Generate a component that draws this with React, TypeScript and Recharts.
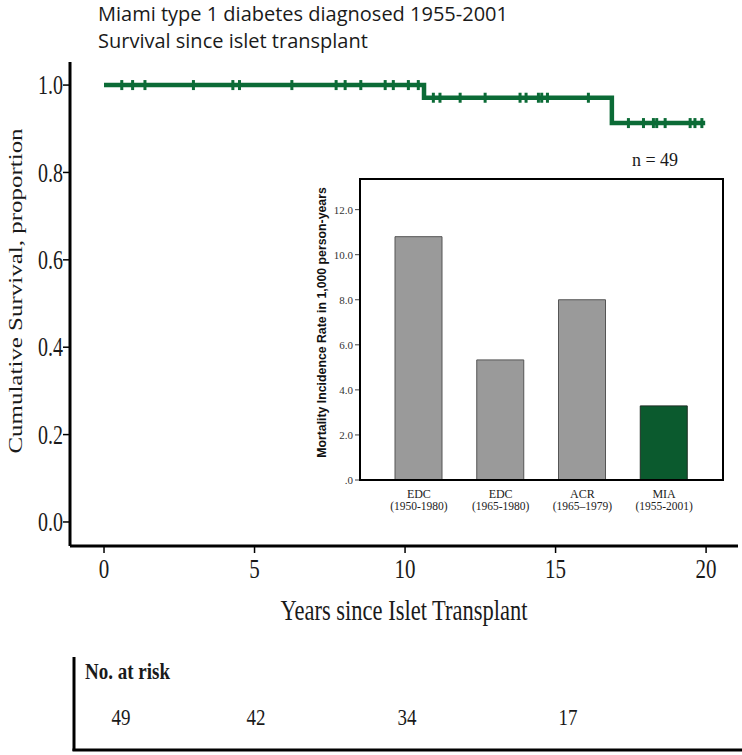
import React from 'react';
import { ComposedChart, Line, Scatter, XAxis, YAxis, BarChart, Bar, Cell, Label } from 'recharts';

// Kaplan-Meier steps (years, survival proportion)
const stepTimes = [0, 10.63, 16.87, 19.97];
const stepSurvival = [1.0, 0.971, 0.913, 0.913];
// censored observations (years)
const censorTimes = [
  0.59, 0.95, 1.36, 2.97, 4.28, 4.5, 6.24, 7.71, 8.01, 8.53, 9.34, 9.61, 10.11, 10.44,
  10.94, 11.16, 11.83, 12.66, 13.82, 14.02, 14.43, 14.54, 14.73, 16.09,
  17.42, 17.92, 18.25, 18.36, 18.64, 19.47, 19.63, 19.86,
];
const xTicks = [0, 5, 10, 15, 20];
const yTicks = [0, 0.2, 0.4, 0.6, 0.8, 1.0];

// inset: mortality incidence per 1,000 person-years
const studyNames = ['EDC', 'EDC', 'ACR', 'MIA'];
const studyPeriods = ['(1950-1980)', '(1965-1980)', '(1965\u20131979)', '(1955-2001)'];
const mortalityRates = [10.8, 5.33, 8.0, 3.29];
const rateTicks = [0, 2, 4, 6, 8, 10, 12];

// number at risk below the plot
const riskCounts = [49, 42, 34, 17];
const riskX = [121, 256, 407, 568];

const SERIF = '"Liberation Serif", "Times New Roman", serif';
const GREEN = '#0b6b36';
const BAR_GREEN = '#0b5a2e';
const BAR_GRAY = '#9a9a9a';
const INK = '#1a1a1a';

const survivalAt = (t: number) => {
  let s = stepSurvival[0];
  stepTimes.forEach((st, i) => {
    if (st <= t) s = stepSurvival[i];
  });
  return s;
};

const curveData = stepTimes.map((t, i) => ({ t, s: stepSurvival[i] }));
const censorData = censorTimes.map((t) => ({ t, s: survivalAt(t) }));
const barData = studyNames.map((name, i) => ({
  key: `${name}${i}`,
  name,
  period: studyPeriods[i],
  rate: mortalityRates[i],
}));

// the source figure has its text stretched vertically
function StretchText({ x, y, size, anchor = 'middle', weight = 'normal', sy = 1.35, rotate = false, children }: any) {
  const t = rotate
    ? `translate(${x},${y}) rotate(-90) scale(${sy},1)`
    : `translate(${x},${y}) scale(1,${sy})`;
  return (
    <text transform={t} textAnchor={anchor} dominantBaseline="central" fontFamily={SERIF} fontSize={size} fontWeight={weight} fill={INK}>
      {children}
    </text>
  );
}

const CensorMark = (props: any) => {
  const { cx, cy } = props;
  if (cx == null || cy == null) return null;
  return <rect x={cx - 1.5} y={cy - 5} width={3} height={10} fill={GREEN} />;
};

const StudyTick = (props: any) => {
  const { x, y, payload, index } = props;
  const d = barData[index] ?? barData.find((b) => b.key === payload.value);
  return (
    <g>
      <text x={x} y={y + 6} textAnchor="middle" dominantBaseline="central" fontFamily={SERIF} fontSize={12} fill="#222">
        {d?.name}
      </text>
      <text x={x} y={y + 18} textAnchor="middle" dominantBaseline="central" fontFamily={SERIF} fontSize={11.5} fill="#222">
        {d?.period}
      </text>
    </g>
  );
};

function InsetChart() {
  return (
    <div style={{ position: 'absolute', left: 290, top: 170 }}>
      <BarChart width={440} height={350} data={barData} margin={{ top: 9, right: 7, left: 0, bottom: 0 }}>
        <XAxis
          dataKey="key"
          height={40}
          padding={{ left: 18, right: 18 }}
          axisLine={false}
          tickLine={false}
          interval={0}
          tick={<StudyTick />}
        />
        <YAxis
          width={70}
          domain={[0, 13.36]}
          ticks={rateTicks}
          allowDataOverflow
          axisLine={false}
          tickSize={5}
          tickMargin={2}
          tickLine={{ stroke: '#444', strokeWidth: 1 }}
          tickFormatter={(v: number) => (v === 0 ? '.0' : v.toFixed(1))}
          tick={{ fontFamily: SERIF, fontSize: 11, fill: '#333' }}
        >
          <Label
            content={(p: any) => {
              const vb = p.viewBox;
              return (
                <text
                  transform={`translate(${vb.x + 32},${vb.y + vb.height / 2 - 7}) rotate(-90)`}
                  textAnchor="middle"
                  dominantBaseline="central"
                  fontFamily='"Liberation Sans", Arial, sans-serif'
                  fontWeight="bold"
                  fontSize={12.3}
                  fill="#111"
                >
                  Mortality Incidence Rate in 1,000 person-years
                </text>
              );
            }}
          />
        </YAxis>
        <Bar dataKey="rate" barSize={47} stroke="#555" strokeWidth={1} isAnimationActive={false}>
          {barData.map((d) => (
            <Cell key={d.key} fill={d.name === 'MIA' ? BAR_GREEN : BAR_GRAY} stroke={d.name === 'MIA' ? '#1f2f25' : '#555'} />
          ))}
        </Bar>
      </BarChart>
      <div
        style={{
          position: 'absolute',
          left: 68.75,
          top: 7.75,
          width: 365.7,
          height: 303.7,
          border: '2.5px solid #000',
          boxSizing: 'border-box',
          pointerEvents: 'none',
        }}
      />
    </div>
  );
}

function RiskTable() {
  return (
    <svg width={742} height={115} style={{ position: 'absolute', left: 0, top: 640 }}>
      <line x1={74} y1={17} x2={74} y2={111} stroke="#000" strokeWidth={3} />
      <line x1={72.5} y1={110} x2={742} y2={110} stroke="#000" strokeWidth={3} />
      <StretchText x={85} y={31} size={19} anchor="start" weight="bold" sy={1.25}>
        No. at risk
      </StretchText>
      {riskCounts.map((n, i) => (
        <StretchText key={n} x={riskX[i]} y={77} size={19} sy={1.25}>
          {n}
        </StretchText>
      ))}
    </svg>
  );
}

export default function App() {
  return (
    <div style={{ position: 'absolute', left: 0, top: 0, width: 742, height: 755, background: '#fff', overflow: 'hidden' }}>
      <div style={{ position: 'absolute', left: 98, top: 0, fontFamily: '"Open Sans", sans-serif', fontSize: 20, lineHeight: '27px', color: INK }}>
        <div>Miami type 1 diabetes diagnosed 1955-2001</div>
        <div>Survival since islet transplant</div>
      </div>
      <div style={{ position: 'absolute', left: 0, top: 0 }}>
        <ComposedChart width={742} height={640} data={curveData} margin={{ top: 62, right: 4, left: 10, bottom: 14 }}>
          <XAxis
            type="number"
            dataKey="t"
            domain={[-1.13, 21.06]}
            ticks={xTicks}
            allowDataOverflow
            height={80}
            axisLine={{ stroke: '#000', strokeWidth: 3 }}
            tickLine={{ stroke: '#000', strokeWidth: 1.5 }}
            tickSize={7}
            tickMargin={2}
            tick={(p: any) => (
              <StretchText x={p.x} y={p.y + 13} size={21}>
                {p.payload.value}
              </StretchText>
            )}
          >
            <Label
              content={(p: any) => {
                const vb = p.viewBox;
                return (
                  <StretchText x={vb.x + vb.width / 2} y={vb.y + 64} size={22.5}>
                    Years since Islet Transplant
                  </StretchText>
                );
              }}
            />
          </XAxis>
          <YAxis
            type="number"
            dataKey="s"
            width={60}
            domain={[-0.055, 1.0528]}
            ticks={yTicks}
            allowDataOverflow
            axisLine={{ stroke: '#000', strokeWidth: 3 }}
            tickLine={{ stroke: '#000', strokeWidth: 1.5 }}
            tickSize={7}
            tickMargin={0}
            tick={(p: any) => (
              <StretchText x={p.x} y={p.y} size={20} anchor="end">
                {Number(p.payload.value).toFixed(1)}
              </StretchText>
            )}
          >
            <Label
              content={(p: any) => {
                const vb = p.viewBox;
                return (
                  <StretchText x={vb.x + 6} y={vb.y + vb.height / 2 - 13} size={18.5} rotate>
                    Cumulative Survival, proportion
                  </StretchText>
                );
              }}
            />
          </YAxis>
          <Line
            type="stepAfter"
            dataKey="s"
            stroke={GREEN}
            strokeWidth={4.5}
            dot={false}
            activeDot={false}
            isAnimationActive={false}
          />
          <Scatter data={censorData} dataKey="s" shape={<CensorMark />} isAnimationActive={false} />
        </ComposedChart>
      </div>
      <InsetChart />
      <div style={{ position: 'absolute', left: 615, top: 150, width: 80, textAlign: 'center', fontFamily: SERIF, fontSize: 18, color: INK }}>
        n = 49
      </div>
      <RiskTable />
    </div>
  );
}
